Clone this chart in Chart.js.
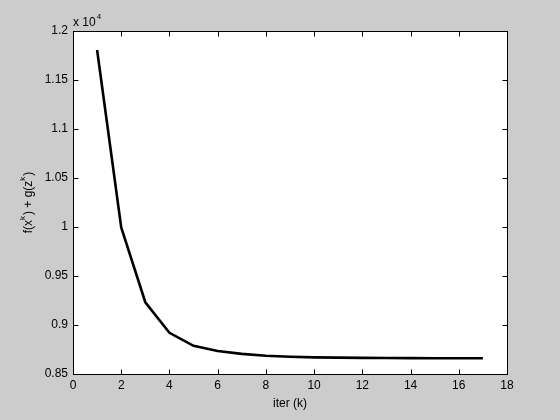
<!DOCTYPE html>
<html>
<head>
<meta charset="utf-8">
<script src="https://cdn.jsdelivr.net/npm/chart.js@4"></script>
<style>
  html, body { margin: 0; padding: 0; background: #cccccc; }
  #wrap { width: 560px; height: 420px; }
</style>
</head>
<body>
<div id="wrap"><canvas id="c" width="560" height="420"></canvas></div>
<script>
const iterations = [1, 2, 3, 4, 5, 6, 7, 8, 9, 10, 11, 12, 13, 14, 15, 16, 17];
const objective = [11806, 9995, 9232, 8920, 8787, 8735, 8705, 8686, 8676, 8670, 8667, 8665, 8663, 8662, 8661, 8660, 8660];
const xTicks = [0, 2, 4, 6, 8, 10, 12, 14, 16, 18];
const yTicks = [8500, 9000, 9500, 10000, 10500, 11000, 11500, 12000];

const FONT = "Liberation Sans, Arial, Helvetica, sans-serif";

// white axes box, inward ticks on all four sides, titles with superscripts
const matlabAxes = {
  id: "matlabAxes",
  beforeDraw(chart) {
    const { ctx, chartArea: a } = chart;
    ctx.save();
    ctx.fillStyle = "#ffffff";
    ctx.fillRect(a.left, a.top, a.right - a.left, a.bottom - a.top);
    ctx.restore();
  },
  afterDraw(chart) {
    const { ctx, chartArea: a, scales } = chart;
    const L = Math.round(a.left) + 0.5, R = Math.round(a.right) + 0.5;
    const T = Math.round(a.top) + 0.5, B = Math.round(a.bottom) + 0.5;
    const len = 5;
    ctx.save();
    ctx.strokeStyle = "#000";
    ctx.lineWidth = 1;
    ctx.strokeRect(L, T, R - L, B - T);
    ctx.beginPath();
    xTicks.forEach((v) => {
      const px = Math.round(scales.x.getPixelForValue(v)) + 0.5;
      ctx.moveTo(px, B); ctx.lineTo(px, B - len);
      ctx.moveTo(px, T); ctx.lineTo(px, T + len);
    });
    yTicks.forEach((v) => {
      const py = Math.round(scales.y.getPixelForValue(v)) + 0.5;
      ctx.moveTo(L, py); ctx.lineTo(L + len, py);
      ctx.moveTo(R, py); ctx.lineTo(R - len, py);
    });
    ctx.stroke();

    ctx.fillStyle = "#000";
    ctx.textBaseline = "alphabetic";
    // exponent label
    ctx.font = `12px ${FONT}`;
    ctx.textAlign = "left";
    ctx.fillText("x 10", a.left, a.top - 5);
    const w = ctx.measureText("x 10").width;
    ctx.font = `8px ${FONT}`;
    ctx.fillText("4", a.left + w + 1, a.top - 12);

    // x title
    ctx.font = `12px ${FONT}`;
    ctx.textAlign = "center";
    ctx.fillText("iter (k)", (a.left + a.right) / 2, 407);

    // y title, rotated, with superscript k's
    const parts = [["f(x", 0], ["k", 1], [") + g(z", 0], ["k", 1], [")", 0]];
    const size = (p) => (p[1] ? 8 : 12);
    let total = 0;
    parts.forEach((p) => { ctx.font = `${size(p)}px ${FONT}`; total += ctx.measureText(p[0]).width + (p[1] ? 1 : 0); });
    ctx.translate(32, (a.top + a.bottom) / 2);
    ctx.rotate(-Math.PI / 2);
    ctx.textAlign = "left";
    let x = -total / 2;
    parts.forEach((p) => {
      ctx.font = `${size(p)}px ${FONT}`;
      ctx.fillText(p[0], x, p[1] ? -7 : 0);
      x += ctx.measureText(p[0]).width + (p[1] ? 1 : 0);
    });
    ctx.restore();
  },
};

new Chart(document.getElementById("c"), {
  type: "line",
  data: {
    labels: iterations,
    datasets: [{
      data: iterations.map((k, i) => ({ x: k, y: objective[i] })),
      borderColor: "#000000", borderWidth: 2.6, pointRadius: 0, tension: 0, fill: false,
    }],
  },
  options: {
    responsive: false, animation: false, devicePixelRatio: 1,
    layout: { padding: { left: 0, top: 31, right: 53, bottom: 0 } },
    plugins: { legend: { display: false }, tooltip: { enabled: false } },
    scales: {
      x: {
        type: "linear", min: 0, max: 18,
        afterBuildTicks: (s) => { s.ticks = xTicks.map((v) => ({ value: v })); },
        afterFit: (s) => { s.height = 46; },
        grid: { display: false, drawTicks: false }, border: { display: false },
        ticks: { color: "#000", padding: 4, maxRotation: 0, font: { family: FONT, size: 12 } },
      },
      y: {
        type: "linear", min: 8500, max: 12000,
        afterBuildTicks: (s) => { s.ticks = yTicks.map((v) => ({ value: v })); },
        afterFit: (s) => { s.width = 73; },
        grid: { display: false, drawTicks: false }, border: { display: false },
        ticks: {
          color: "#000", padding: 5, font: { family: FONT, size: 12 },
          callback: (v) => String(parseFloat((v / 1e4).toFixed(2))),
        },
      },
    },
  },
  plugins: [matlabAxes],
});
</script>
</body>
</html>
